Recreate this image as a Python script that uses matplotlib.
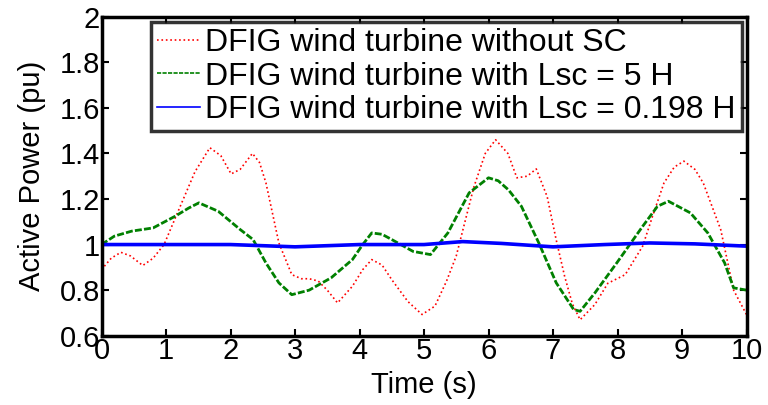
import matplotlib
matplotlib.use("Agg")
import matplotlib.pyplot as plt

t_red = [0, 0.15, 0.3, 0.45, 0.64, 0.8, 0.97, 1.2, 1.45, 1.68, 1.85, 2.01, 2.15, 2.34, 2.45, 2.55, 2.75, 2.95, 3.1, 3.22, 3.36, 3.5, 3.66, 3.89, 4.05, 4.19, 4.35, 4.5, 4.75, 4.97, 5.17, 5.35, 5.5, 5.77, 5.95, 6.11, 6.3, 6.44, 6.6, 6.74, 6.91, 7.05, 7.18, 7.3, 7.42, 7.65, 7.85, 8.12, 8.39, 8.55, 8.72, 8.88, 9.03, 9.2, 9.33, 9.6, 9.8, 10]
p_red = [0.89, 0.94, 0.966, 0.95, 0.908, 0.94, 1.0, 1.154, 1.32, 1.425, 1.39, 1.31, 1.33, 1.40, 1.36, 1.27, 1.007, 0.868, 0.85, 0.85, 0.84, 0.80, 0.744, 0.817, 0.89, 0.934, 0.91, 0.846, 0.75, 0.693, 0.73, 0.84, 0.95, 1.25, 1.40, 1.46, 1.40, 1.293, 1.30, 1.332, 1.21, 1.02, 0.861, 0.74, 0.67, 0.737, 0.83, 0.868, 0.993, 1.13, 1.27, 1.34, 1.366, 1.33, 1.27, 1.066, 0.80, 0.693]

t_green = [0, 0.2, 0.47, 0.8, 1.14, 1.35, 1.51, 1.81, 2.15, 2.35, 2.55, 2.75, 2.95, 3.22, 3.56, 3.89, 4.05, 4.19, 4.35, 4.5, 4.83, 5.1, 5.37, 5.7, 6.0, 6.15, 6.31, 6.51, 6.78, 7.05, 7.32, 7.42, 7.65, 7.99, 8.39, 8.62, 8.79, 9.13, 9.4, 9.66, 9.8, 10]
p_green = [1.0, 1.037, 1.059, 1.073, 1.124, 1.16, 1.183, 1.146, 1.066, 1.022, 0.919, 0.832, 0.78, 0.80, 0.854, 0.934, 1.0, 1.051, 1.045, 1.022, 0.97, 0.956, 1.051, 1.227, 1.293, 1.28, 1.24, 1.168, 1.007, 0.832, 0.715, 0.707, 0.788, 0.92, 1.08, 1.168, 1.19, 1.139, 1.051, 0.92, 0.81, 0.80]

t_blue = [0, 1, 2, 3, 4, 5, 5.6, 6.2, 7, 7.8, 8.5, 9.2, 10]
p_blue = [1.0, 1.0, 1.0, 0.99, 1.0, 1.0, 1.013, 1.005, 0.99, 1.0, 1.007, 1.003, 0.993]

labels = ["DFIG wind turbine without SC",
          "DFIG wind turbine with Lsc = 5 H",
          "DFIG wind turbine with Lsc = 0.198 H"]

plt.rcParams['font.family'] = ['Liberation Sans', 'DejaVu Sans']

W, H = 768, 405
fig = plt.figure(figsize=(W/100, H/100), dpi=100)
L, R, T, B = 101.5, 746.5, 16.7, 335.7
ax = fig.add_axes([L/W, 1 - B/H, (R-L)/W, (B-T)/H])

ax.plot(t_red, p_red, color='#ff0000', linestyle=':', linewidth=1.2, label=labels[0])
ax.plot(t_green, p_green, color='#008000', linestyle='--', linewidth=2.0, dashes=(2.5, 0.8), label=labels[1])
ax.plot(t_blue, p_blue, color='#0000ff', linestyle='-', linewidth=2.6, label=labels[2])

ax.set_xlim(0, 10)
ax.set_ylim(0.6, 2)
ax.set_xticks(range(0, 11))
ax.set_yticks([0.6, 0.8, 1.0, 1.2, 1.4, 1.6, 1.8, 2.0])
ax.set_yticklabels(['0.6', '0.8', '1', '1.2', '1.4', '1.6', '1.8', '2'])
ax.tick_params(direction='in', top=True, right=True, length=5, width=1.5, labelsize=21, pad=1)
for s in ax.spines.values():
    s.set_linewidth(2.5)
ax.set_xlabel('Time (s)', fontsize=21, labelpad=4)
ax.set_ylabel('Active Power (pu)', fontsize=21, labelpad=10)

leg = ax.legend(loc='upper right', bbox_to_anchor=((742 - L)/(R - L), (B - 22)/(B - T)), fontsize=23,
                frameon=True, fancybox=False, edgecolor='black', handlelength=1.35, handletextpad=0.15,
                borderpad=0.2, labelspacing=0.1, borderaxespad=0)
leg.get_frame().set_linewidth(2.5)
for line in leg.get_lines():
    line.set_linewidth(1.2)

fig.savefig('out.png', dpi=100)
